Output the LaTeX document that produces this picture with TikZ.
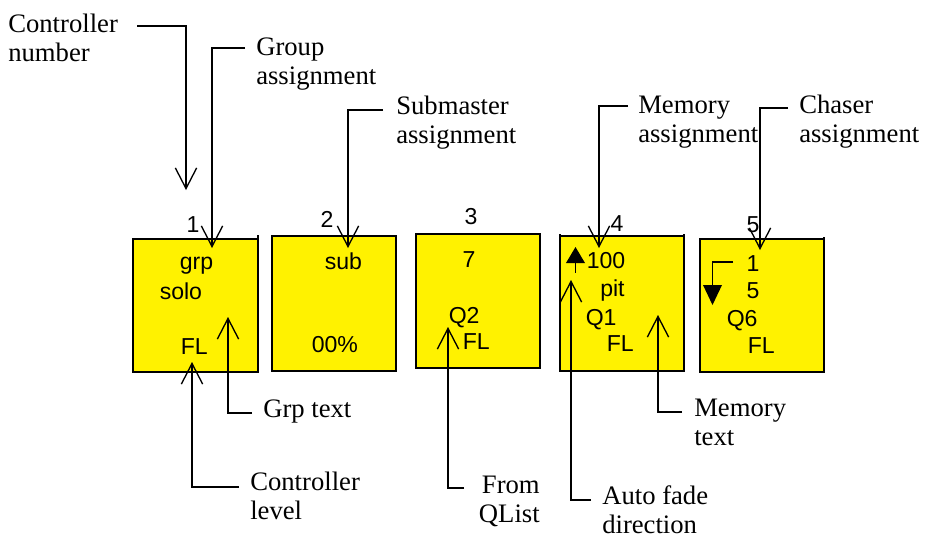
\documentclass[tikz,border=0pt]{standalone}
\usepackage{fontspec}
\setmainfont{Liberation Serif}
\newfontfamily\arialf{Liberation Sans}
\usetikzlibrary{arrows.meta}
\begin{document}
\begin{tikzpicture}[x=0.75pt,y=-0.75pt,
  box/.style={draw=black, line width=1.5pt, fill=yellow},
  conn/.style={draw=black, line width=1pt, -{Straight Barb[length=15.5pt,width=16pt,line width=1pt]}},
  tick/.style={draw=black, line width=1pt},
  lbl/.style={font=\fontsize{20}{22}\selectfont, inner sep=0pt, anchor=base west},
  val/.style={font=\arialf\fontsize{17.3}{20}\selectfont, inner sep=0pt, anchor=base west},
  num/.style={font=\arialf\fontsize{17.3}{20}\selectfont, inner sep=0pt, anchor=base},
]
\useasboundingbox (0,0) rectangle (926,540);

% boxes
\draw[box] (133,239) rectangle (258,372);
\draw[box] (272,236) rectangle (396,371);
\draw[box] (416,234) rectangle (540,368);
\draw[box] (560,236) rectangle (684,371);
\draw[box] (700,239) rectangle (824,372);
\draw[tick] (258,239) -- (258,235);
\draw[tick] (560,236) -- (560,233.5);
\draw[tick] (684,236) -- (684,233.5);
\draw[tick] (824,239) -- (824,236.5);

% controller numbers
\node[num] (n1) at (193,232) {1};
\node[num] (n2) at (327,227) {2};
\node[num] (n3) at (471,224) {3};
\node[num] (n4) at (617,231) {4};
\node[num] (n5) at (753,232) {5};

% box contents
\node[val] (b1a) at (179.5,269) {grp};
\node[val] (b1b) at (159.5,299) {solo};
\node[val] (b1c) at (180.5,354) {FL};
\node[val] (b2a) at (324.5,269) {sub};
\node[val] (b2b) at (311.5,352) {00\%};
\node[num] (b3a) at (469,267) {7};
\node[val] (b3b) at (448.5,323) {Q2};
\node[val] (b3c) at (462.5,349) {FL};
\node[val] (b4a) at (586.5,268) {100};
\node[val] (b4b) at (600,296) {pit};
\node[val] (b4c) at (585.5,325) {Q1};
\node[val] (b4d) at (606.5,351) {FL};
\node[num] (b5a) at (753,271) {1};
\node[num] (b5b) at (753,298) {5};
\node[val] (b5c) at (726.5,326) {Q6};
\node[val] (b5d) at (747.5,353) {FL};

% fade direction symbols
\fill (566,263) -- (575.5,247) -- (585,263) -- cycle;
\draw[tick] (575.5,263) -- (575.5,273);
\draw[tick] (733,262) -- (712.5,262) -- (712.5,286);
\fill (703,285) -- (722,285) -- (712.5,305) -- cycle;

% labels
\node[lbl] (cn) at (8,32) {\begin{tabular}[t]{@{}l@{}}Controller\\number\end{tabular}};
\node[lbl] (ga) at (256,55) {\begin{tabular}[t]{@{}l@{}}Group\\assignment\end{tabular}};
\node[lbl] (sa) at (396,114) {\begin{tabular}[t]{@{}l@{}}Submaster\\assignment\end{tabular}};
\node[lbl] (ma) at (638,113) {\begin{tabular}[t]{@{}l@{}}Memory\\assignment\end{tabular}};
\node[lbl] (ca) at (799,113) {\begin{tabular}[t]{@{}l@{}}Chaser\\assignment\end{tabular}};
\node[lbl] (gt) at (263,417) {Grp text};
\node[lbl] (cl) at (250,490) {\begin{tabular}[t]{@{}l@{}}Controller\\level\end{tabular}};
\node[lbl, anchor=base east] (fq) at (540,493) {\begin{tabular}[t]{@{}r@{}}From\\QList\end{tabular}};
\node[lbl] (af) at (602,504) {\begin{tabular}[t]{@{}l@{}}Auto fade\\direction\end{tabular}};
\node[lbl] (mt) at (694,416) {\begin{tabular}[t]{@{}l@{}}Memory\\text\end{tabular}};

% connector ends
\coordinate (cn-s) at (137,26);   \coordinate (cn-t) at (186,190);
\coordinate (ga-s) at (245,48);   \coordinate (ga-t) at (212,248);
\coordinate (sa-s) at (383,110);  \coordinate (sa-t) at (348,248);
\coordinate (ma-s) at (628,106);  \coordinate (ma-t) at (599,248);
\coordinate (ca-s) at (788,108);  \coordinate (ca-t) at (760,250);
\coordinate (gt-s) at (252,413);  \coordinate (gt-t) at (228,317);
\coordinate (cl-s) at (239,487);  \coordinate (cl-t) at (192,362);
\coordinate (fq-s) at (464,488);  \coordinate (fq-t) at (448,327);
\coordinate (af-s) at (591,500);  \coordinate (af-t) at (571,280);
\coordinate (mt-s) at (682,412);  \coordinate (mt-t) at (658,315);

% connectors
\foreach \c in {cn,ga,sa,ma,ca,gt,cl,fq,af,mt}
  \draw[conn] (\c-s) -| (\c-t);
\end{tikzpicture}
\end{document}
